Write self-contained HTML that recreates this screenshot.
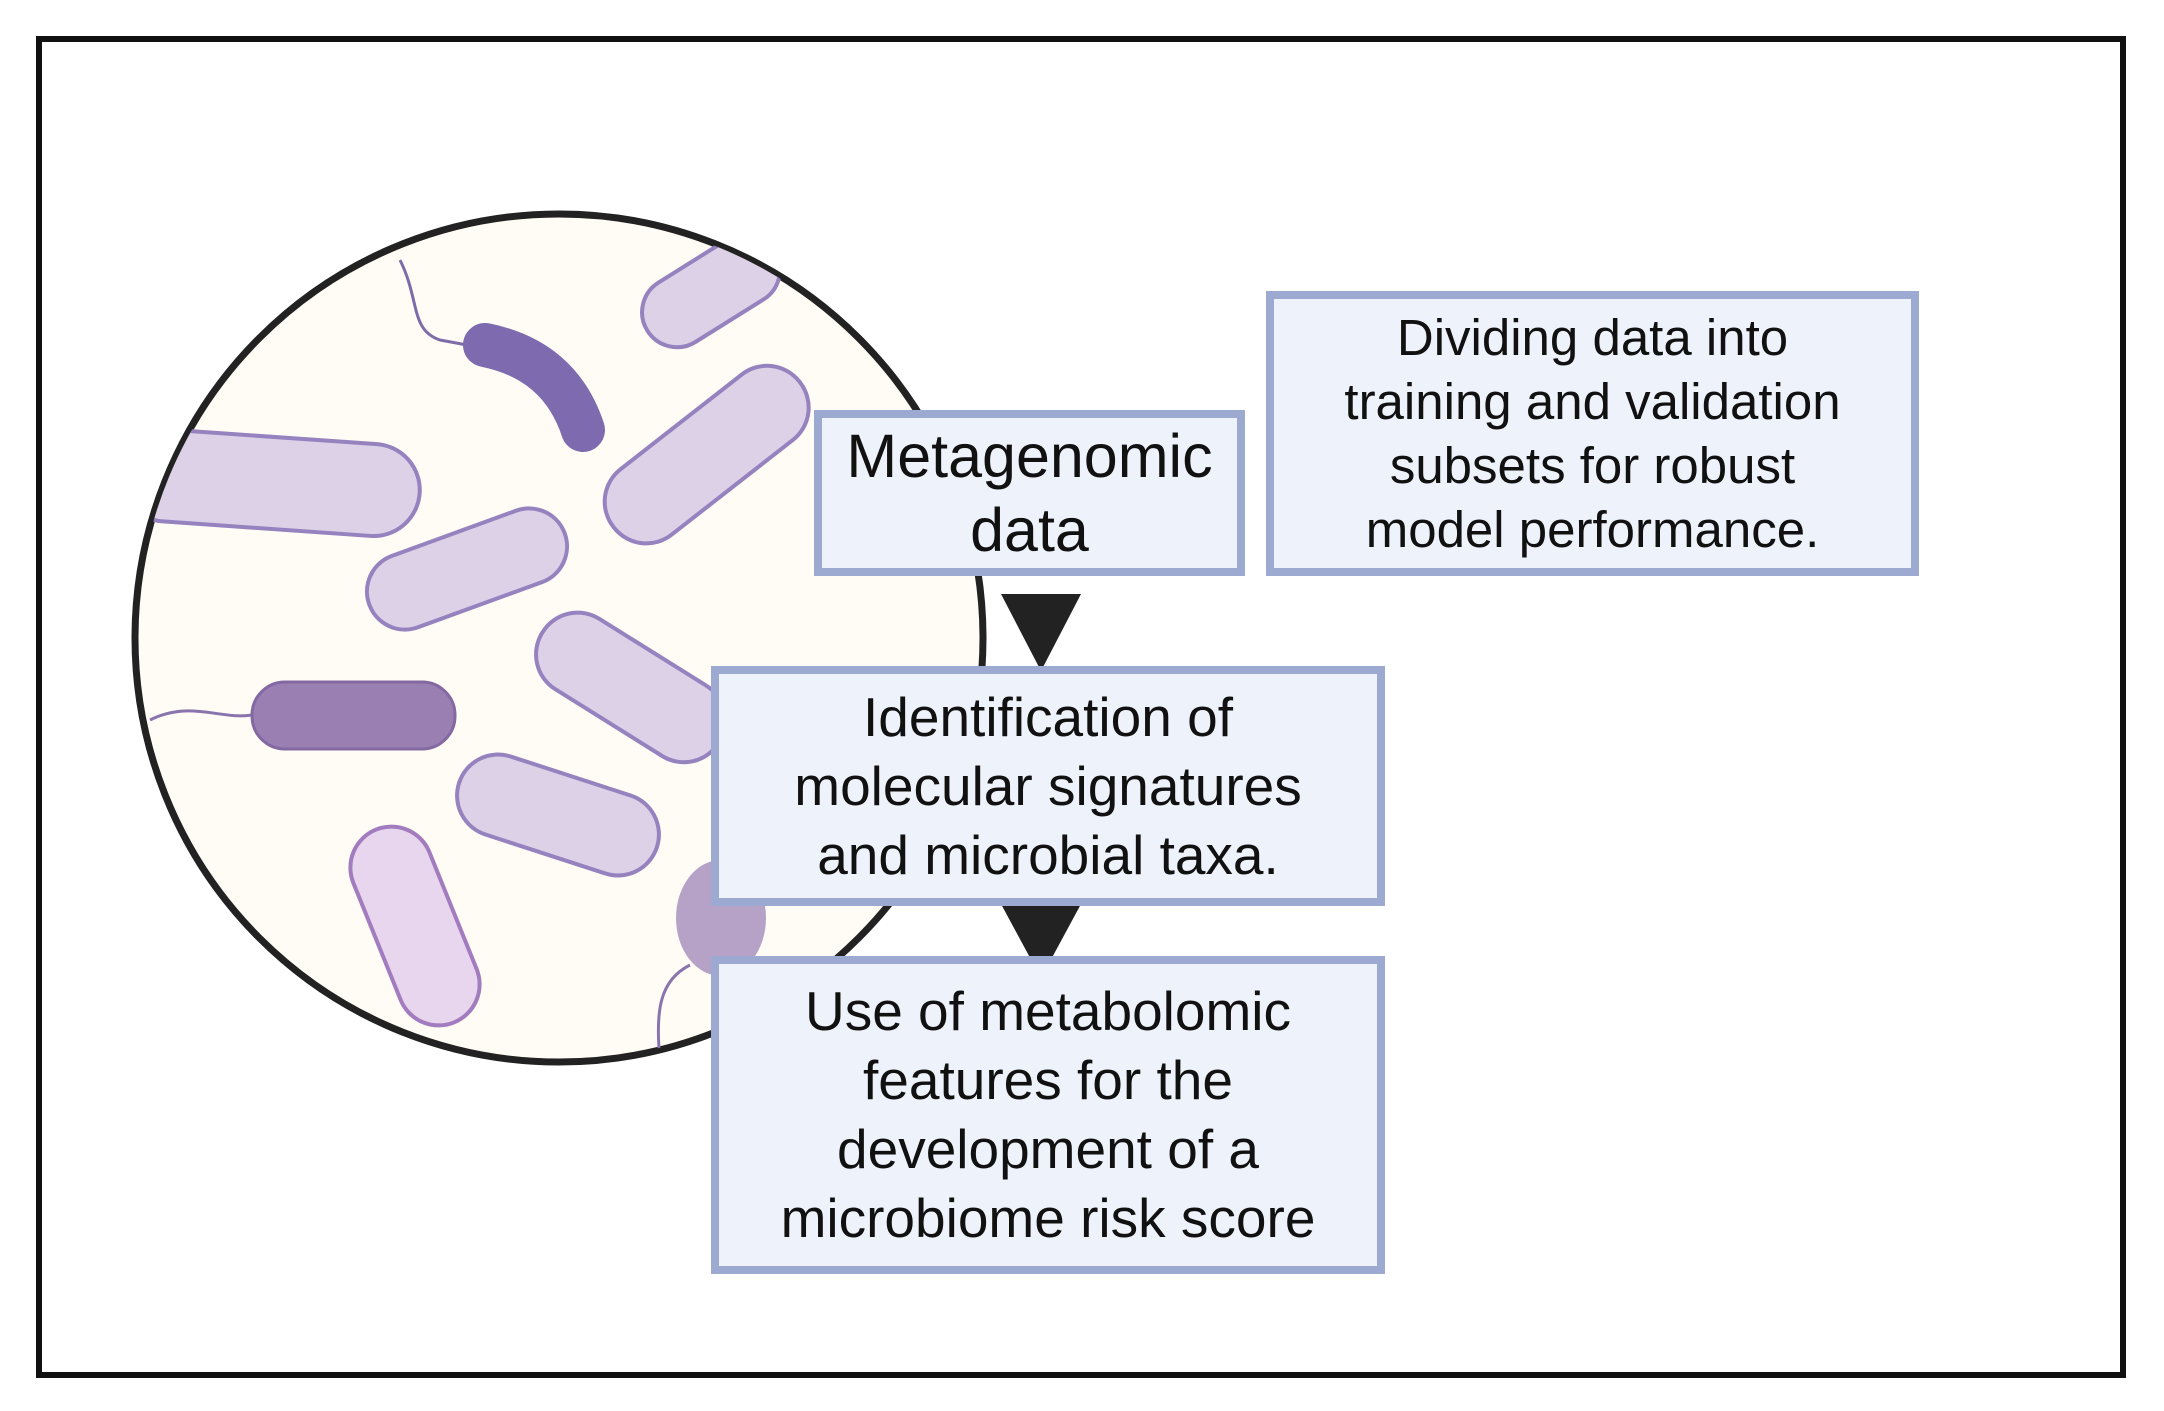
<!DOCTYPE html>
<html><head><meta charset="utf-8"><style>
html,body{margin:0;padding:0;background:#fff;}
body{width:2164px;height:1411px;position:relative;overflow:hidden;font-family:"Liberation Sans",sans-serif;}
.frame{position:absolute;left:36px;top:36px;width:2090px;height:1342px;border:6px solid #111;box-sizing:border-box;}
.box{position:absolute;box-sizing:border-box;border:8px solid #9CAAD2;background:#EEF2FA;display:flex;align-items:center;justify-content:center;text-align:center;color:#111;white-space:nowrap;}
</style></head><body>
<div class="frame"></div>
<svg width="2164" height="1411" style="position:absolute;left:0;top:0">
<defs><clipPath id="c"><circle cx="559" cy="638" r="422"/></clipPath></defs>
<circle cx="559" cy="638" r="424" fill="#FFFCF5" stroke="#222" stroke-width="7"/>
<g clip-path="url(#c)">
<path d="M400 260 C420 300 410 330 440 340 L478 347" fill="none" stroke="#7C6CA8" stroke-width="3"/>
<path d="M485 345 Q560 360 583 430" fill="none" stroke="#7E6AAE" stroke-width="44" stroke-linecap="round"/>
<path d="M150 720 C190 700 220 720 252 715" fill="none" stroke="#8A74AE" stroke-width="3"/>
<rect x="252" y="682" width="203" height="67" rx="33" fill="#9A80B2" stroke="#8468A2" stroke-width="3"/>
<g fill="#DDD1E8" stroke="#9582BE" stroke-width="4">
<rect x="636" y="256" width="150" height="70" rx="35" transform="rotate(-32 711 291)"/>
<rect x="120" y="437" width="300" height="92" rx="46" transform="rotate(4 273 483)"/>
<rect x="363" y="531" width="208" height="76" rx="38" transform="rotate(-20 467 569)"/>
<rect x="589" y="413" width="236" height="83" rx="41" transform="rotate(-38 707 455)"/>
<rect x="527" y="646" width="208" height="83" rx="41" transform="rotate(32 631 687)"/>
<rect x="454" y="774" width="208" height="82" rx="41" transform="rotate(18 558 815)"/>
<rect x="311" y="885" width="208" height="82" rx="41" transform="rotate(68 415 926)" fill="#E8D6EE" stroke="#A27CBE"/>
</g>
<ellipse cx="721" cy="918" rx="45" ry="58" fill="#B6A2C6"/>
<path d="M690 965 C660 980 655 1010 660 1060" fill="none" stroke="#8A74AE" stroke-width="3"/>
</g>
<polygon points="1001,594 1081,594 1041,671" fill="#222"/>
<polygon points="1001,904 1081,904 1041,978" fill="#222"/>
</svg>
<div class="box" style="left:814px;top:410px;width:431px;height:166px;font-size:61px;line-height:74px;">Metagenomic<br>data</div>
<div class="box" style="left:1266px;top:291px;width:653px;height:285px;font-size:51px;line-height:64px;">Dividing data into<br>training and validation<br>subsets for robust<br>model performance.</div>
<div class="box" style="left:711px;top:666px;width:674px;height:240px;font-size:55px;line-height:69px;">Identification of<br>molecular signatures<br>and microbial taxa.</div>
<div class="box" style="left:711px;top:956px;width:674px;height:318px;font-size:55px;line-height:69px;">Use of metabolomic<br>features for the<br>development of a<br>microbiome risk score</div>
</body></html>
